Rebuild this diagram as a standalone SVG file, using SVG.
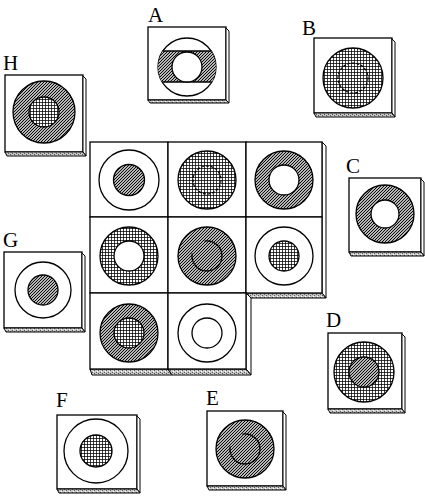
<svg xmlns="http://www.w3.org/2000/svg" width="425" height="497" viewBox="0 0 425 497">
<defs>
<pattern id="hatch" patternUnits="userSpaceOnUse" width="3" height="3">
<rect width="3" height="3" fill="#fff"/>
<path d="M-1,1 L1,-1 M0,3 L3,0 M2,4 L4,2" stroke="#000" stroke-width="1.1"/>
</pattern>
<pattern id="dots" patternUnits="userSpaceOnUse" width="3" height="3">
<rect width="3" height="3" fill="#fff"/>
<rect width="3" height="0.75" fill="#000"/>
<rect width="0.75" height="3" fill="#000"/>
</pattern>
<pattern id="speck" patternUnits="userSpaceOnUse" width="4" height="3">
<rect width="4" height="3" fill="#c8c8c8"/>
<rect x="0" y="0" width="1" height="1" fill="#555"/>
<rect x="2" y="1" width="1" height="1" fill="#555"/>
<rect x="1" y="2" width="1" height="1" fill="#fff"/>
</pattern>
<clipPath id="bandA"><rect x="150" y="51" width="75" height="31"/></clipPath>
</defs>
<style>
.face{fill:#fff;stroke:#000;stroke-width:1.3}
.side{fill:#fff;stroke:#000;stroke-width:1}
.strip{fill:url(#speck);stroke:#000;stroke-width:1}
.ring{fill:none;stroke:#000;stroke-width:1.3}
.hatch{fill:url(#hatch);stroke:#000;stroke-width:1.3}
.dots{fill:url(#dots);stroke:#000;stroke-width:1.3}
.white{fill:#fff;stroke:#000;stroke-width:1.3}
.dash{fill:none;stroke:#000;stroke-width:1.2;stroke-dasharray:3 1.6}
.brk{fill:none;stroke:#000;stroke-width:1.3}
.lbl{font-family:"Liberation Serif","Times New Roman",serif;font-size:21px;fill:#000}
</style>

<g id="A">
<text class="lbl" x="148" y="22">A</text>
<rect class="face" x="148" y="27" width="78" height="73"/>
<polygon class="side" points="226,28 229,31 229,103 226,100"/>
<polygon class="strip" points="148,100 226,100 229,103 150,103"/>
<circle class="ring" cx="187" cy="67" r="29"/>
<circle cx="187" cy="67" r="29" fill="url(#hatch)" clip-path="url(#bandA)"/>
<line x1="162.8" y1="51" x2="211.2" y2="51" stroke="#000" stroke-width="1.3"/>
<line x1="162.2" y1="82" x2="211.8" y2="82" stroke="#000" stroke-width="1.3"/>
<circle class="white" cx="187" cy="67" r="15"/>
</g>

<g id="B">
<text class="lbl" x="302" y="35">B</text>
<rect class="face" x="314" y="38" width="78" height="75"/>
<polygon class="side" points="392,39 395,42 395,117 392,113"/>
<polygon class="strip" points="314,113 392,113 395,117 316,117"/>
<circle class="dots" cx="353" cy="78" r="30"/>
<circle class="dash" cx="353" cy="78" r="15"/>
</g>

<g id="H">
<text class="lbl" x="3" y="70">H</text>
<rect class="face" x="5" y="75" width="78" height="77"/>
<polygon class="side" points="83,76 86,79 86,156 83,152"/>
<polygon class="strip" points="5,152 83,152 86,156 7,156"/>
<circle class="hatch" cx="44" cy="112" r="31"/>
<circle class="dots" cx="44" cy="112" r="15"/>
</g>

<g id="C">
<text class="lbl" x="346" y="173">C</text>
<rect class="face" x="349" y="178" width="72" height="74"/>
<polygon class="side" points="421,179 424,182 424,256 421,252"/>
<polygon class="strip" points="349,252 421,252 424,256 351,256"/>
<circle class="hatch" cx="385" cy="214" r="29"/>
<circle class="white" cx="385" cy="214" r="14"/>
</g>

<g id="G">
<text class="lbl" x="3" y="247">G</text>
<rect class="face" x="4" y="252" width="78" height="76"/>
<polygon class="side" points="82,253 85,256 85,332 82,328"/>
<polygon class="strip" points="4,328 82,328 85,332 6,332"/>
<circle class="ring" cx="43" cy="290" r="28"/>
<circle class="hatch" cx="43" cy="290" r="15"/>
</g>

<g id="D">
<text class="lbl" x="326" y="327">D</text>
<rect class="face" x="328" y="333" width="74" height="76"/>
<polygon class="side" points="402,334 405,337 405,413 402,409"/>
<polygon class="strip" points="328,409 402,409 405,413 330,413"/>
<circle class="dots" cx="364" cy="372" r="30"/>
<circle class="hatch" cx="364" cy="372" r="15"/>
</g>

<g id="F">
<text class="lbl" x="56" y="407">F</text>
<rect class="face" x="57" y="415" width="80" height="74"/>
<polygon class="side" points="137,416 140,419 140,493 137,489"/>
<polygon class="strip" points="57,489 137,489 140,493 59,493"/>
<circle class="ring" cx="96" cy="451" r="32"/>
<circle class="dots" cx="96" cy="451" r="16"/>
</g>

<g id="E">
<text class="lbl" x="206" y="405">E</text>
<rect class="face" x="207" y="411" width="76" height="75"/>
<polygon class="side" points="283,412 286,415 286,490 283,486"/>
<polygon class="strip" points="207,486 283,486 286,490 209,490"/>
<circle class="hatch" cx="245" cy="449" r="29"/>
<path class="brk" d="M242.4,434.2 A15,15 0 1 1 230.2,446.4"/>
</g>

<g id="grid">
<polygon class="side" points="322,142 326,146 326,298 322,293"/>
<polygon class="strip" points="246,293 322,293 326,298 251,298"/>
<polygon class="side" points="246,293 251,298 251,375 246,369"/>
<polygon class="strip" points="90,369 168,369 172,375 92,375"/>
<polygon class="strip" points="168,369 246,369 251,375 172,375"/>
</g>

<g id="cell-1-1">
<rect class="face" x="90" y="142" width="78" height="75"/>
<circle class="ring" cx="129" cy="180" r="30"/>
<circle class="hatch" cx="129" cy="180" r="15.5"/>
</g>
<g id="cell-1-2">
<rect class="face" x="168" y="142" width="78" height="75"/>
<circle class="dots" cx="207" cy="180" r="29"/>
<circle class="dash" cx="207" cy="180" r="14"/>
</g>
<g id="cell-1-3">
<rect class="face" x="246" y="142" width="76" height="75"/>
<circle class="hatch" cx="284" cy="180" r="29"/>
<circle class="white" cx="284" cy="180" r="15"/>
</g>
<g id="cell-2-1">
<rect class="face" x="90" y="217" width="78" height="76"/>
<circle class="dots" cx="129" cy="256" r="29"/>
<circle class="white" cx="129" cy="256" r="15"/>
</g>
<g id="cell-2-2">
<rect class="face" x="168" y="217" width="78" height="76"/>
<circle class="hatch" cx="207" cy="256" r="29"/>
<path class="brk" d="M204.4,241.2 A15,15 0 1 1 192.2,253.4"/>
</g>
<g id="cell-2-3">
<rect class="face" x="246" y="217" width="76" height="76"/>
<circle class="ring" cx="284" cy="256" r="29"/>
<circle class="dots" cx="284" cy="256" r="15"/>
</g>
<g id="cell-3-1">
<rect class="face" x="90" y="293" width="78" height="76"/>
<circle class="hatch" cx="129" cy="333" r="29"/>
<circle class="dots" cx="129" cy="333" r="15"/>
</g>
<g id="cell-3-2">
<rect class="face" x="168" y="293" width="78" height="76"/>
<circle class="ring" cx="207" cy="333" r="29"/>
<circle class="ring" cx="207" cy="333" r="15"/>
</g>
</svg>
